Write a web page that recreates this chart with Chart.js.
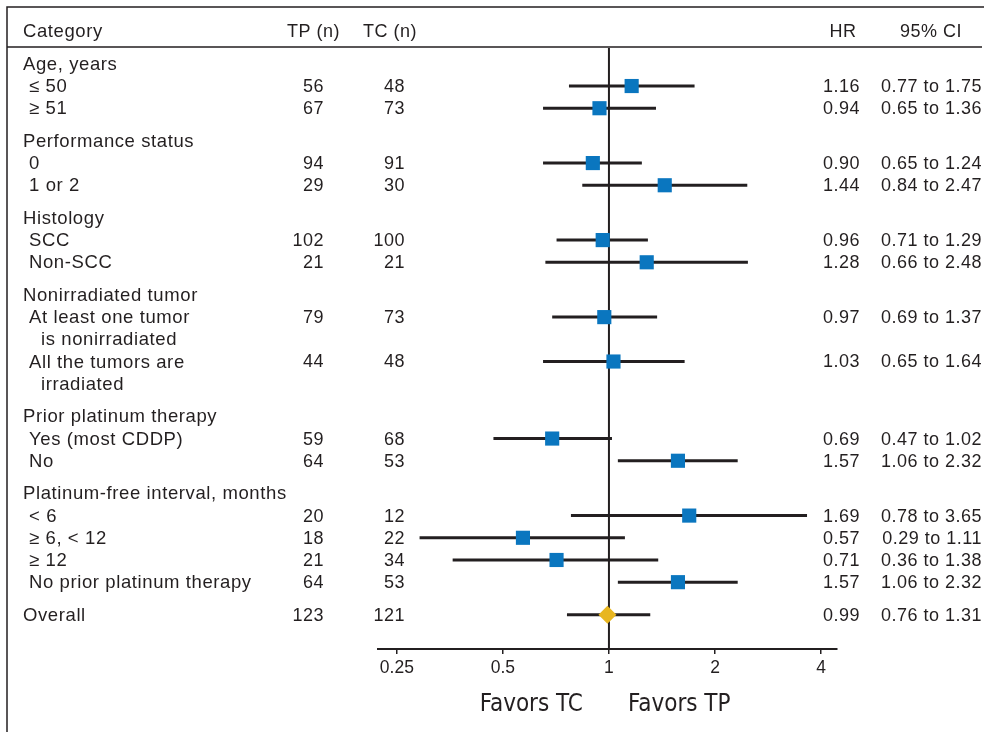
<!DOCTYPE html>
<html>
<head>
<meta charset="utf-8">
<script src="https://cdn.jsdelivr.net/npm/chart.js@4/dist/chart.umd.min.js"></script>
<style>
  html, body { margin: 0; padding: 0; background: #fff; }
  #wrap { width: 984px; height: 732px; position: relative; }
</style>
</head>
<body>
<div id="wrap"><canvas id="forest"></canvas></div>
<script>
// data
const groupTitles = ['Age, years', 'Performance status', 'Histology', 'Nonirradiated tumor',
    'Prior platinum therapy', 'Platinum-free interval, months', ''];
const groupIndex = [0, 0, 1, 1, 2, 2, 3, 3, 4, 4, 5, 5, 5, 5, 6];
const subgroupLabels = [['≤ 50'], ['≥ 51'], ['0'], ['1 or 2'], ['SCC'], ['Non-SCC'],
    ['At least one tumor', 'is nonirradiated'], ['All the tumors are', 'irradiated'],
    ['Yes (most CDDP)'], ['No'], ['< 6'], ['≥ 6, < 12'], ['≥ 12'], ['No prior platinum therapy'], ['Overall']];
const tpN = [56, 67, 94, 29, 102, 21, 79, 44, 59, 64, 20, 18, 21, 64, 123];
const tcN = [48, 73, 91, 30, 100, 21, 73, 48, 68, 53, 12, 22, 34, 53, 121];
const hazardRatio = [1.16, 0.94, 0.90, 1.44, 0.96, 1.28, 0.97, 1.03, 0.69, 1.57, 1.69, 0.57, 0.71, 1.57, 0.99];
const ciLow = [0.77, 0.65, 0.65, 0.84, 0.71, 0.66, 0.69, 0.65, 0.47, 1.06, 0.78, 0.29, 0.36, 1.06, 0.76];
const ciHigh = [1.75, 1.36, 1.24, 2.47, 1.29, 2.48, 1.37, 1.64, 1.02, 2.32, 3.65, 1.11, 1.38, 2.32, 1.31];
const xTicks = [0.25, 0.5, 1, 2, 4];
const headers = ['Category', 'TP (n)', 'TC (n)', 'HR', '95% CI'];
const favorsLabels = ['Favors TC', 'Favors TP'];

const INK = '#231f20';
const FONT = '"Liberation Sans", Arial, sans-serif';
const GAP = 0.47; // extra space between groups, in rows

// row positions (in row units, header = 0)
const titleRows = [];
const itemRows = [];
let line = 0, gaps = 0, prev = -1;
subgroupLabels.forEach((lab, i) => {
    const g = groupIndex[i];
    if (g !== prev) {
        gaps++;
        prev = g;
        if (groupTitles[g]) {
            line++;
            titleRows.push({ v: line + gaps * GAP, text: groupTitles[g] });
        }
    }
    line++;
    itemRows.push({ v: line + gaps * GAP, i: i, indent: !!groupTitles[g] });
    line += lab.length - 1;
});
const yTop = 0.757, yBottom = 27.83;

const datasets = [];
// markers first so they sit on top
datasets.push({
    data: itemRows.filter(r => r.i < 14).map(r => ({ x: hazardRatio[r.i], y: r.v })),
    pointStyle: 'rect', pointRadius: 10, backgroundColor: '#0a76bf', borderWidth: 0
});
datasets.push({
    data: itemRows.filter(r => r.i === 14).map(r => ({ x: hazardRatio[r.i], y: r.v })),
    pointStyle: 'rectRot', pointRadius: 9, backgroundColor: '#e8b620', borderWidth: 0
});
itemRows.forEach(r => {
    datasets.push({
        data: [{ x: ciLow[r.i], y: r.v }, { x: ciHigh[r.i], y: r.v }],
        showLine: true, borderColor: INK, borderWidth: 3, pointRadius: 0
    });
});
datasets.push({
    data: [{ x: 1, y: yTop }, { x: 1, y: yBottom }],
    showLine: true, borderColor: INK, borderWidth: 2, pointRadius: 0
});

const tablePlugin = {
    id: 'table',
    afterDraw(chart) {
        const ctx = chart.ctx;
        const ys = chart.scales.y;
        const xs = chart.scales.x;
        ctx.save();
        ctx.fillStyle = INK;
        ctx.strokeStyle = INK;

        // frame and header rule
        ctx.lineWidth = 1.5;
        ctx.beginPath();
        ctx.moveTo(7, 732); ctx.lineTo(7, 7); ctx.lineTo(984, 7);
        ctx.moveTo(7, 47); ctx.lineTo(982, 47);
        ctx.stroke();

        ctx.textBaseline = 'middle';
        const text = (s, x, y, align) => { ctx.textAlign = align; ctx.fillText(s, x, y + 1); };
        const labelFont = () => { ctx.font = '18.5px ' + FONT; ctx.letterSpacing = '0.6px'; };
        const numberFont = () => { ctx.font = '18px ' + FONT; ctx.letterSpacing = '0.5px'; };

        const hy = ys.getPixelForValue(0);
        labelFont();
        text(headers[0], 23, hy, 'left');
        numberFont();
        text(headers[1], 287, hy, 'left');
        text(headers[2], 363, hy, 'left');
        text(headers[3], 843, hy, 'center');
        text(headers[4], 931, hy, 'center');

        labelFont();
        titleRows.forEach(r => text(r.text, 23, ys.getPixelForValue(r.v), 'left'));
        itemRows.forEach(r => {
            const y = ys.getPixelForValue(r.v);
            const i = r.i;
            labelFont();
            subgroupLabels[i].forEach((s, k) => {
                const x = r.indent ? (k === 0 ? 29 : 41) : 23;
                text(s, x, y + k * 22.2, 'left');
            });
            numberFont();
            text(String(tpN[i]), 324, y, 'right');
            text(String(tcN[i]), 405, y, 'right');
            text(hazardRatio[i].toFixed(2), 860, y, 'right');
            text(ciLow[i].toFixed(2) + ' to ' + ciHigh[i].toFixed(2), 982, y, 'right');
        });

        // favors labels under the axis
        ctx.letterSpacing = '0px';
        ctx.font = '24px "Liberation Sans Narrow", "DejaVu Sans Condensed", sans-serif';
        const px1 = xs.getPixelForValue(1);
        text(favorsLabels[0], px1 - 26, 704, 'right');
        text(favorsLabels[1], px1 + 19, 704, 'left');
        ctx.restore();
    }
};

new Chart(document.getElementById('forest'), {
    type: 'scatter',
    data: { datasets: datasets },
    options: {
        responsive: true,
        maintainAspectRatio: false,
        animation: false,
        events: [],
        layout: { padding: { left: 378, right: 147, top: 48, bottom: 0 } },
        plugins: { legend: { display: false }, tooltip: { enabled: false } },
        scales: {
            x: {
                type: 'logarithmic',
                min: 0.221,
                max: 4.44,
                afterBuildTicks: scale => { scale.ticks = xTicks.map(v => ({ value: v })); },
                afterFit: scale => { scale.height = 83; },
                ticks: {
                    autoSkip: false, maxRotation: 0, padding: 4, color: INK,
                    font: { family: FONT, size: 17.5 },
                    callback: v => String(v)
                },
                grid: { drawOnChartArea: false, drawTicks: true, tickLength: 5, color: INK, lineWidth: 1.5 },
                border: { color: INK, width: 2 }
            },
            y: {
                type: 'linear',
                reverse: true,
                min: yTop,
                max: yBottom,
                display: false
            }
        }
    },
    plugins: [tablePlugin]
});
</script>
</body>
</html>
